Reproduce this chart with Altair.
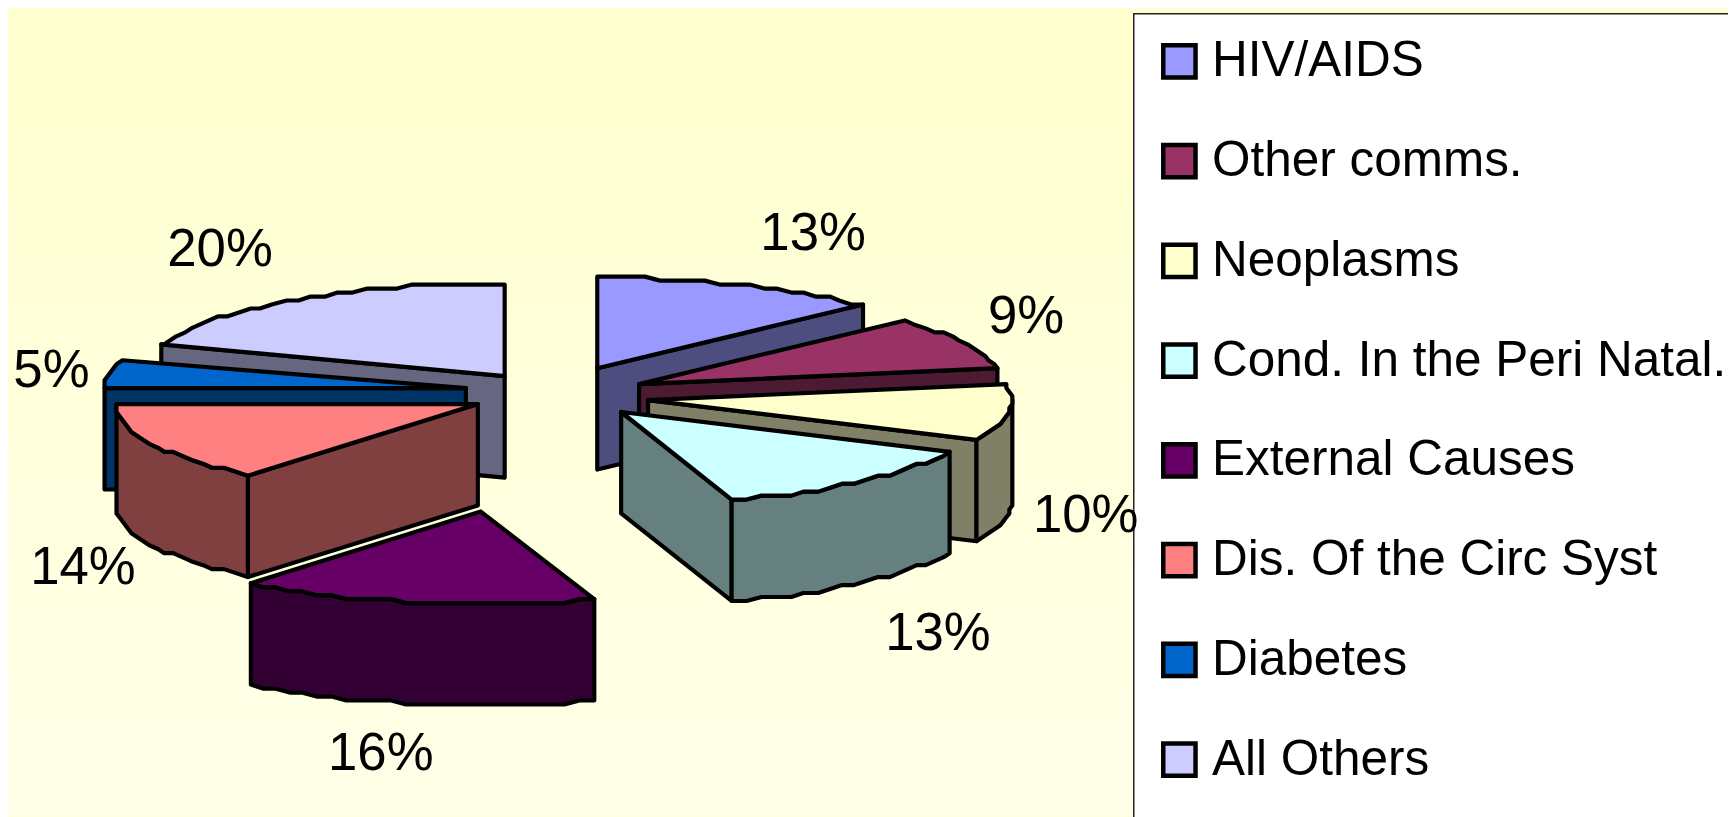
import math
import altair as alt
import pandas as pd

# ---- values ----
categories = ["HIV/AIDS", "Other comms.", "Neoplasms", "Cond. In the Peri Natal.",
              "External Causes", "Dis. Of the Circ Syst", "Diabetes", "All Others"]
shares = [13, 9, 10, 13, 16, 14, 5, 20]
top_colors = ["#9999FF", "#993366", "#FFFFCC", "#CCFFFF", "#660066", "#FF8080", "#0066CC", "#CCCCFF"]
wall_colors = ["#4D4D80", "#4D1A33", "#808066", "#668080", "#330033", "#804040", "#003366", "#666680"]

# ---- pie geometry (3-D projection parameters) ----
W, H = 1728, 809
k = 1736 / 1568
cx, cy = 500 * k, 356 * k
a, b, depth = 329 * k, 83 * k, 92 * k
explode_x = [.33, .276, .272, .292, 1.02, .222, .235, .217]
explode_y = [.302, .239, .59, .273, 1.315, .255, .46, .268]
label_off_x = [64, 57, 70, 70, -30, -61, -52, -65]
label_off_y = [-46, -23, 94, 138, 138, 113, -2, -46]
draw_order = [7, 6, 5, 0, 1, 2, 3, 4]
SNAPX, SNAPY = 3.0, 4.0


def snap(p):
    return (round(p[0] / SNAPX) * SNAPX, round(p[1] / SNAPY) * SNAPY)


rows, labels = [], []
poly_id = 0


def add_poly(points, name):
    global poly_id
    for j, (x, y) in enumerate(points + points[:1]):
        rows.append({"poly": f"p{poly_id:02d}", "seq": j, "x": x, "y": y, "part": name})
    poly_id += 1


start = 0.0
bounds = []
for s in shares:
    bounds.append((start, start + s * 3.6))
    start += s * 3.6

for i in draw_order:
    t0, t1 = bounds[i]
    mid = (t0 + t1) / 2
    sm, cm = math.sin(math.radians(mid)), math.cos(math.radians(mid))
    ax = cx + explode_x[i] * a * sm
    ay = cy - explode_y[i] * b * cm

    def rim(t):
        r = math.radians(t)
        return snap((ax + a * math.sin(r), ay - b * math.cos(r)))

    def arc(u, v):
        n = max(2, int(round((v - u) / 2.5)))
        return [rim(u + (v - u) * q / n) for q in range(n + 1)]

    apex = snap((ax, ay))
    wall = lambda p: (p[0], p[1] + depth)
    if 0 < t1 < 180:
        add_poly([apex, rim(t1), wall(rim(t1)), wall(apex)], wall_colors[i])
    if 180 <= t0 < 360:
        add_poly([apex, rim(t0), wall(rim(t0)), wall(apex)], wall_colors[i])
    u, v = max(t0, 90), min(t1, 270)
    if u < v:
        pts = arc(u, v)
        add_poly(pts + [wall(p) for p in reversed(pts)], wall_colors[i])
    add_poly([apex] + arc(t0, t1), categories[i])
    labels.append({
        "x": ax + a * sm + label_off_x[i] * k,
        "y": ay - b * cm + label_off_y[i] * k,
        "t": f"{shares[i]}%",
    })

poly = pd.DataFrame(rows)
lab = pd.DataFrame(labels)

xs = alt.Scale(domain=[8, 8 + W], zero=False, nice=False)
ys = alt.Scale(domain=[8 + H, 8], zero=False, nice=False)
X = alt.X("x:Q", scale=xs, axis=None)
Y = alt.Y("y:Q", scale=ys, axis=None)

grad = alt.Gradient(gradient="linear", x1=0, x2=0, y1=0, y2=1,
                    stops=[alt.GradientStop(color="#FFFFCE", offset=0),
                           alt.GradientStop(color="#FFFFE9", offset=1)])
bg = alt.Chart(pd.DataFrame({"a": [0]})).mark_rect(fill=grad).encode(
    x=alt.value(0), x2=alt.value(W), y=alt.value(0), y2=alt.value(H))

box = alt.Chart(pd.DataFrame({"x": [1139], "x2": [1800], "y": [12], "y2": [860]})).mark_rect(
    fill="white", stroke="#222222", strokeWidth=1.5, clip=False).encode(
    x=X, x2="x2:Q", y=Y, y2="y2:Q")

slices = alt.Chart(poly).mark_line(stroke="black", strokeWidth=4.2, strokeJoin="round",
                                   strokeCap="round").encode(
    x=X, y=Y,
    detail="poly:N",
    order="seq:Q",
    fill=alt.Fill("part:N",
                  scale=alt.Scale(domain=categories + wall_colors, range=top_colors + wall_colors),
                  legend=alt.Legend(
                      values=categories, title=None, orient="none", legendX=1152, legendY=27,
                      symbolType="square", symbolSize=1050, symbolStrokeColor="black",
                      symbolStrokeWidth=4.5, symbolOpacity=1,
                      labelFont="Liberation Sans", labelFontSize=49.7, labelColor="black",
                      labelLimit=600, labelOffset=8, rowPadding=48.2, padding=0,
                  )),
)

text = alt.Chart(lab).mark_text(font="Liberation Sans", fontSize=53, color="black").encode(
    x=X, y=Y, text="t:N")

chart = alt.layer(bg, box, slices, text).resolve_scale(fill="independent").properties(
    width=W, height=H, padding=0, background="#FFFFDC",
    autosize=alt.AutoSizeParams(type="none"),
).configure_view(stroke=None)

chart.save("out.html", embed_options={"renderer": "svg", "actions": False})
